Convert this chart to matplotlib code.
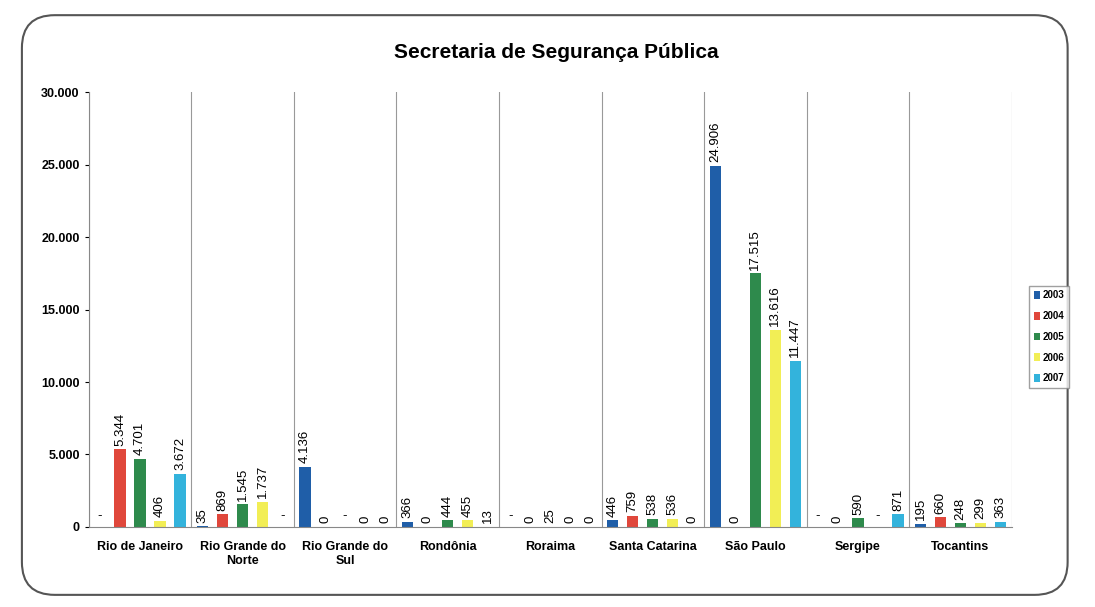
import matplotlib.pyplot as plt
import numpy as np
from matplotlib.patches import FancyBboxPatch
from matplotlib.ticker import FuncFormatter

plt.rcParams['font.family'] = ['Liberation Sans', 'DejaVu Sans']

# dados (None = "-")
estados = ["Rio de Janeiro", "Rio Grande do\nNorte", "Rio Grande do\nSul", "Rondônia",
           "Roraima", "Santa Catarina", "São Paulo", "Sergipe", "Tocantins"]
anos = ["2003", "2004", "2005", "2006", "2007"]
v2003 = [None, 35, 4136, 366, None, 446, 24906, None, 195]
v2004 = [5344, 869, 0, 0, 0, 759, 0, 0, 660]
v2005 = [4701, 1545, None, 444, 25, 538, 17515, 590, 248]
v2006 = [406, 1737, 0, 455, 0, 536, 13616, None, 299]
v2007 = [3672, None, 0, 13, 0, 0, 11447, 871, 363]
series = [v2003, v2004, v2005, v2006, v2007]
cores = ["#1f5ea8", "#e0473b", "#2e8a4c", "#f2ee55", "#33b3dc"]


def fmt(v):
    return "{:,}".format(v).replace(",", ".")


fig = plt.figure(figsize=(10.95, 6.07), dpi=100)
borda = FancyBboxPatch((0.02, 0.02), 0.955, 0.955, boxstyle="round,pad=0,rounding_size=0.03",
                       transform=fig.transFigure, facecolor="none", edgecolor="#555555",
                       linewidth=1.5, mutation_aspect=1095 / 607, zorder=5)
fig.patches.append(borda)

ax = fig.add_axes([0.081, 0.132, 0.843, 0.716])
ax.set_facecolor("none")
x = np.arange(len(estados))
larg = 0.11
passo = 0.195
for k, (vals, cor, ano) in enumerate(zip(series, cores, anos)):
    pos = x + (k - 2) * passo
    alturas = [0 if v is None else v for v in vals]
    ax.bar(pos, alturas, width=larg, color=cor, label=ano)
    for p, v in zip(pos, vals):
        if v is None:
            ax.text(p, 350, "-", ha="center", va="bottom", fontsize=9.5)
        else:
            ax.text(p, v + 250, fmt(v), ha="center", va="bottom", rotation=90, fontsize=9.5)

for b in np.arange(len(estados) + 1) - 0.5:
    ax.axvline(b, color="#999999", linewidth=0.8)
ax.set_xlim(-0.5, len(estados) - 0.5)
ax.set_ylim(0, 30000)
ax.set_yticks(np.arange(0, 30001, 5000))
ax.yaxis.set_major_formatter(FuncFormatter(lambda v, p: fmt(int(v))))
ax.set_xticks(x)
ax.set_xticklabels(estados, fontweight="bold", fontsize=9)
ax.tick_params(axis="x", length=0, pad=10)
ax.tick_params(axis="y", labelsize=9, length=3)
for t in ax.get_yticklabels():
    t.set_fontweight("bold")
for s in ["top", "right"]:
    ax.spines[s].set_visible(False)
ax.spines["left"].set_color("#888888")
ax.spines["bottom"].set_color("#888888")

fig.text(0.508, 0.913, "Secretaria de Segurança Pública", ha="center", va="center",
         fontsize=15, fontweight="bold")
leg = fig.legend(loc="center", bbox_to_anchor=(0.958, 0.445), prop={"weight": "bold", "size": 7},
                 handlelength=0.6, handleheight=0.8, handletextpad=0.3, labelspacing=1.1,
                 frameon=True, fancybox=False, edgecolor="#888888", borderpad=0.5)

fig.savefig("out.png", dpi=100)
